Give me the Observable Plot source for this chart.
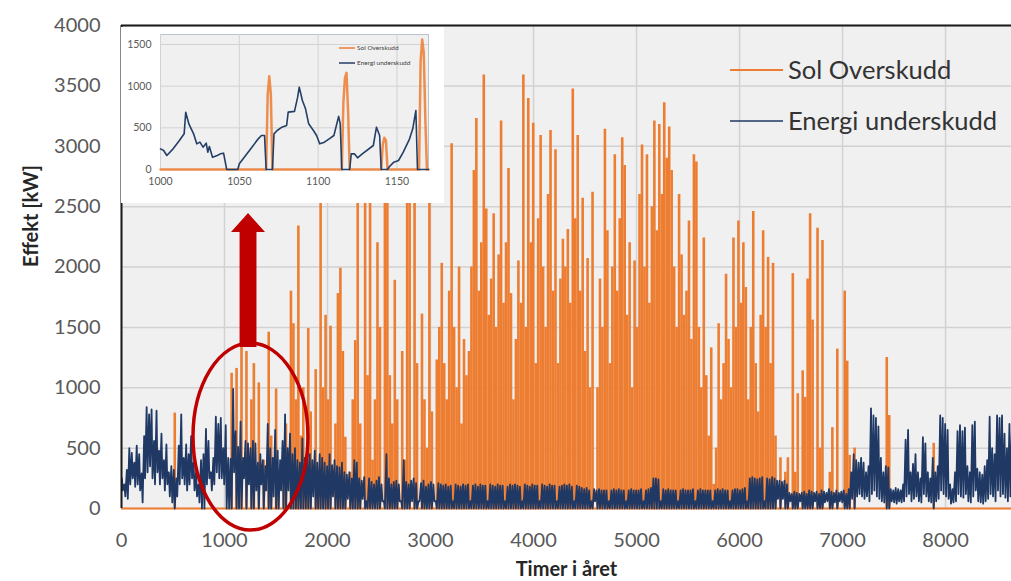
<!DOCTYPE html>
<html><head><meta charset="utf-8">
<script src="https://cdn.jsdelivr.net/npm/d3@7"></script>
<script src="https://cdn.jsdelivr.net/npm/@observablehq/plot@0.6"></script>
<style>
body{margin:0;background:#fff;}
#wrap{position:relative;width:1011px;height:581px;overflow:hidden;font-family:Lato,sans-serif;}
#inset{position:absolute;left:121px;top:27px;width:323px;height:176px;background:#fff;}
svg{display:block;}
</style></head><body><div id="wrap"><div id="main"></div><div id="inset"></div></div>
<script>
// ---------- data ----------
const xTicks = [0,1000,2000,3000,4000,5000,6000,7000,8000];
const yTicks = [0,500,1000,1500,2000,2500,3000,3500,4000];
const seriesNames = ["Sol Overskudd","Energi underskudd"];
const xTitle = "Timer i året";
const yTitle = "Effekt [kW]";

// daily peak of solar surplus (kW), day 0..364
const solarDailyPeak = [
0,0,0,0,0,0,0,0,0,0, 0,0,0,0,0,0,0,0,0,0, 0,790,0,0,0,0,0,0,0,0, 0,0,0,0,0,0,0,0,0,0,
0,0,0,0,1120,0,1160,390,1560,0, 1300,0,900,1200,0,1040,0,400,0,1460, 600,0,990,300,0,500,700,0,1800,1530,
900,2340,600,1000,400,1490,800,0,1150,300, 2700,1000,1600,900,1510,0,700,1780,1990,1300,
590,0,300,900,1390,2900,700,0,3000,1100, 2800,400,900,2200,1500,0,2900,2800,1100,700,
1890,900,0,1300,400,2900,3000,0,2800,1200, 0,1610,900,500,3000,800,0,1230,1500,2030,
1200,900,1800,3020,1500,1000,2000,700,1400,1100, 1300,2000,2800,3230,1800,2200,3590,2480,1600,1900,
2440,1500,2100,3210,1700,2200,2815,1780,900,1400, 2050,1700,3590,1500,3395,2200,3190,1200,2400,3090,
2000,1500,2600,3130,1800,2970,1200,1900,2230,2000, 2310,1700,3475,2400,3090,1800,2570,1300,2070,1000,
2620,0,1000,1900,1500,3140,2300,1200,2000,2930, 1800,2400,3070,2840,1600,2200,1000,2050,1500,2600,
3010,2000,2930,1700,2500,3210,2300,3180,2600,3360, 2900,3160,2800,2000,1500,2600,2100,1600,1800,2380,
1400,2930,2870,1500,1000,2240,1100,600,1330,200, 500,1530,900,1200,1940,1400,1000,2240,1500,2380,
1700,2200,1830,900,1500,2460,1200,800,1600,2300, 1500,2080,1200,2030,600,0,420,0,300,420,
0,1945,300,950,0,1140,920,1900,2440,1560, 0,2320,500,2220,0,0,300,670,0,1320,
0,0,1800,1220,440,0,500,0,0,0, 0,0,0,0,0,0,0,0,0,1250, 770,0,0,0,0,0,0,0,0,0,
0,0,0,0,0,0,0,0,540,0, 0,0,0,0,0,0,0,0,0,0, 0,0,0,0,0,0,0,0,0,0, 0,0,0,0,0,0,0,0,0,0, 0,0,0,0,0
];
// night-time (max) energy deficit per day (kW)
const deficitNightMax = [
250,200,320,500,460,380,520,450,290,600, 840,780,820,560,810,480,620,400,530,300,
350,320,250,520,780,420,530,450,600,380, 300,200,400,450,660,560,300,420,760,700,
750,500,690,420,410,990,640,510,720,420, 560,540,500,560,540,380,450,400,350,700,
500,420,650,480,400,560,780,500,620,450, 500,400,380,580,420,470,450,400,480,380,
450,420,380,350,450,360,400,350,340,380, 300,280,300,250,400,380,250,230,260,60,
250,220,200,230,260,200,60,450,250,200, 220,230,200,60,400,220,200,230,250,210,
60,210,230,180,200,220,200,60,210,200, 190,200,180,190,60,200,190,180,200,190,
200,60,190,200,180,200,190,190,60,200, 190,180,200,190,190,60,180,200,190,200,
190,180,60,200,190,180,200,190,190,60, 200,190,180,200,190,190,60,180,190,200,
190,200,180,60,190,180,170,160,170,150, 60,160,150,160,150,150,150,60,150,160,
150,160,150,150,60,150,160,150,150,150, 160,60,150,160,170,250,250,240,60,160,
150,160,150,150,150,60,150,160,150,150, 150,160,60,150,160,150,150,150,150,60,
150,160,150,160,150,150,60,150,160,160, 150,160,170,60,250,260,250,240,250,260,
60,250,240,260,250,230,230,220,230,200, 130,120,140,130,120,130,140,120,150,140,
130,140,120,150,140,130,160,140,130,150, 130,140,150,120,160,300,450,400,380,420,
380,300,350,830,770,750,680,420,300,350, 340,160,150,170,160,150,200,570,650,300,
370,450,300,250,590,540,300,250,420,300, 350,770,750,700,650,200,160,300,640,690,
640,670,350,300,690,720,330,300,280,350, 400,760,500,450,770,750,770,620,500,700,
650,600,550,500,600
];
// day-time (min) energy deficit per day (kW)
const deficitDayMin = [
150,100,80,200,250,180,200,150,50,250, 300,350,250,200,300,200,250,150,200,100,
50,0,100,200,250,200,150,200,250,150, 100,50,0,0,200,250,150,200,300,250,
250,200,0,0,0,300,0,0,0,250, 0,200,0,0,150,0,200,0,150,0,
0,100,0,0,150,0,0,150,0,0, 0,0,0,0,0,0,0,100,0,0,
0,0,0,0,0,100,0,0,0,0, 0,80,0,0,0,0,0,80,0,0,
0,0,0,0,0,60,0,0,0,0, 0,0,60,0,0,0,0,60,0,0,
60,0,0,0,0,0,60,0,0,0, 0,0,0,0,0,0,0,0,0,0,
0,0,0,0,0,0,0,0,0,0, 0,0,0,0,0,0,0,0,0,0,
0,0,0,0,0,0,0,0,0,0, 0,0,0,0,0,0,0,0,0,0,
0,0,0,0,0,0,0,0,0,0, 0,60,0,0,0,0,0,0,0,0,
0,0,0,0,0,0,0,0,0,0, 0,0,0,0,0,0,0,0,0,0,
0,0,0,0,0,0,0,0,0,0, 0,0,0,0,0,0,0,0,0,0,
0,0,0,0,0,0,0,0,0,0, 0,0,0,0,0,0,0,0,0,0,
0,0,0,0,0,80,0,80,0,0, 60,0,0,0,60,0,0,0,0,0,
60,0,0,0,50,60,0,0,50,0, 60,50,0,0,0,80,0,100,120,100,
80,100,60,120,150,100,80,60,50,0, 0,60,50,40,60,50,60,100,120,60,
80,100,60,50,120,100,60,50,0,60, 80,150,120,100,80,40,50,60,120,100,
90,120,60,50,100,150,60,50,40,60, 80,120,100,60,150,100,120,90,60,100,
100,90,80,60,100
];

// inset: hours 1000-1170
const insetXTicks = [1000,1050,1100,1150];
const insetYTicks = [0,500,1000,1500];
const insetDeficitHour = [1000,1002,1004,1008,1012,1015,1016,1018,1021,1023,1025,1027,1029,1030,1031,1033,1036,1038,1040,1042,1049,1050,1054,1058,1062,1064,1066,1067,1071,1072,1074,1077,1080,1081,1085,1087,1088,1090,1092,1094,1097,1099,1101,1104,1107,1110,1113,1114,1115,1120,1121,1123,1125,1128,1135,1137,1139,1140,1144,1145,1148,1151,1154,1158,1160,1162,1163,1170];
const insetDeficit = [248,228,168,248,348,428,687,547,428,308,328,268,316,208,276,148,168,188,196,0,0,68,168,268,368,408,408,0,0,428,468,508,528,688,698,868,988,828,728,548,468,408,308,328,368,408,638,548,0,0,188,188,140,188,288,508,408,0,0,30,88,108,208,368,488,708,0,0];
const insetSolarHour = [1000,1067,1068,1069,1070,1071,1115,1116,1117,1118,1119,1120,1140,1141,1142,1143,1144,1164,1165,1166,1167,1168,1169,1170];
const insetSolar = [0,0,900,1120,900,0,0,800,1100,1160,700,0,0,300,380,350,0,0,1300,1560,1400,600,0,0];

// annotation (in data units)
const annotEllipse = {hour:1257, kW:592, rHour:558, rKW:774};
const annotArrow = {hour:1233, fromKW:1333, headKW:2286, tipKW:2443, shaftHalf:82, headHalf:165};

const ORANGE = "#ed7d31", NAVY = "#1f3864", RED = "#c00000";

// ---------- tables ----------
const solarRows = solarDailyPeak.map((v,d)=>({hour:d*24+13, kW:v})).filter(r=>r.kW>0);
const deficitRows = deficitNightMax.flatMap((v,d)=>[{hour:d*24+4, kW:v},{hour:d*24+13, kW:deficitDayMin[d]}]);
const insetDefRows = insetDeficitHour.map((h,i)=>({hour:h, kW:insetDeficit[i]}));
const insetSolRows = insetSolarHour.map((h,i)=>({hour:h, kW:insetSolar[i]}));

// ---------- main chart ----------
const main = Plot.plot({
  width:1011, height:581, marginLeft:121, marginRight:0, marginTop:25, marginBottom:73,
  x:{domain:[0,8640]}, y:{domain:[0,4000]},
  style:{fontFamily:"Lato, sans-serif", fontSize:"20px", color:"#595959", background:"transparent", overflow:"visible"},
  marks:[
    Plot.frame({fill:"#f0f0f1", stroke:null}),
    Plot.gridX(xTicks,{stroke:"#d2d2d2", strokeOpacity:1, strokeWidth:1.5}),
    Plot.gridY(yTicks,{stroke:"#d2d2d2", strokeOpacity:1, strokeWidth:1.5}),
    Plot.ruleX(solarRows,{x:"hour", y1:0, y2:"kW", stroke:ORANGE, strokeWidth:2.6}),
    Plot.ruleY([0],{stroke:ORANGE, strokeWidth:2}),
    Plot.line(deficitRows,{x:"hour", y:"kW", stroke:NAVY, strokeWidth:1.8}),
    Plot.ruleY([4000],{stroke:"#1a1a1a", strokeWidth:2}),
    Plot.ruleX([0],{stroke:"#1a1a1a", strokeWidth:2}),
    Plot.axisX({ticks:xTicks, tickSize:0, tickPadding:24, tickFormat:d=>String(d), label:null}),
    Plot.axisY({ticks:yTicks, tickSize:0, tickPadding:21, tickFormat:d=>String(d), label:null}),
    Plot.text([xTitle],{frameAnchor:"bottom", dy:61, text:d=>d, fontWeight:"bold", fontSize:20, fill:"#262626", lineAnchor:"middle"}),
    Plot.text([yTitle],{frameAnchor:"left", dx:-90, rotate:-90, text:d=>d, fontWeight:"bold", fontSize:20, fill:"#262626", lineAnchor:"middle"})
  ]
});
document.getElementById("main").appendChild(main);

const sx = main.scale("x"), sy = main.scale("y");
const X = v=>sx.apply(v), Y = v=>sy.apply(v);
const svg = d3.select(main);

// legend
const leg = svg.append("g").attr("font-family","Lato, sans-serif").attr("font-size",25.5).attr("fill","#333").attr("text-anchor","start");
[[ORANGE,70,2],[NAVY,121,1.6]].forEach(([c,yy,w],i)=>{
  leg.append("line").attr("x1",730).attr("x2",783).attr("y1",yy).attr("y2",yy).attr("stroke",c).attr("stroke-width",w);
  leg.append("text").attr("x",788).attr("y",yy).attr("dy","0.35em").attr("text-anchor","start").text(seriesNames[i]);
});

// annotations
svg.append("ellipse")
  .attr("cx",X(annotEllipse.hour)).attr("cy",Y(annotEllipse.kW))
  .attr("rx",X(annotEllipse.hour+annotEllipse.rHour)-X(annotEllipse.hour))
  .attr("ry",Y(0)-Y(annotEllipse.rKW))
  .attr("fill","none").attr("stroke",RED).attr("stroke-width",3.5);
const a = annotArrow;
const pts = [[a.hour-a.shaftHalf,a.fromKW],[a.hour-a.shaftHalf,a.headKW],[a.hour-a.headHalf,a.headKW],[a.hour,a.tipKW],
             [a.hour+a.headHalf,a.headKW],[a.hour+a.shaftHalf,a.headKW],[a.hour+a.shaftHalf,a.fromKW]];
svg.append("path").attr("d","M"+pts.map(p=>X(p[0])+","+Y(p[1])).join("L")+"Z").attr("fill",RED);

// ---------- inset ----------
const inset = Plot.plot({
  width:323, height:176, marginLeft:39, marginRight:16, marginTop:7, marginBottom:34,
  x:{domain:[1000,1170]}, y:{domain:[0,1620]},
  style:{fontFamily:"Lato, sans-serif", fontSize:"10.5px", color:"#595959", background:"#fff"},
  marks:[
    Plot.frame({fill:"#f0f0f1", stroke:"#b9c3cd"}),
    Plot.gridX(insetXTicks,{stroke:"#d2d2d2", strokeOpacity:1}),
    Plot.gridY(insetYTicks,{stroke:"#d2d2d2", strokeOpacity:1}),
    Plot.line(insetSolRows,{x:"hour", y:"kW", stroke:ORANGE, strokeWidth:2.5, strokeOpacity:0.85}),
    Plot.line(insetDefRows,{x:"hour", y:"kW", stroke:"#243f66", strokeWidth:1.6}),
    Plot.axisX({ticks:insetXTicks, tickSize:0, tickPadding:8, tickFormat:d=>String(d), label:null}),
    Plot.axisY({ticks:insetYTicks, tickSize:0, tickPadding:9, tickFormat:d=>String(d), label:null})
  ]
});
document.getElementById("inset").appendChild(inset);
const isv = d3.select(inset);
const ileg = isv.append("g").attr("font-family","Lato, sans-serif").attr("font-size",6.5).attr("fill","#404040").attr("text-anchor","start");
[[ORANGE,21],["#243f66",36]].forEach(([c,yy],i)=>{
  ileg.append("line").attr("x1",218).attr("x2",234).attr("y1",yy).attr("y2",yy).attr("stroke",c).attr("stroke-width",1.5);
  ileg.append("text").attr("x",236).attr("y",yy).attr("dy","0.35em").attr("text-anchor","start").text(seriesNames[i]);
});
</script></body></html>
